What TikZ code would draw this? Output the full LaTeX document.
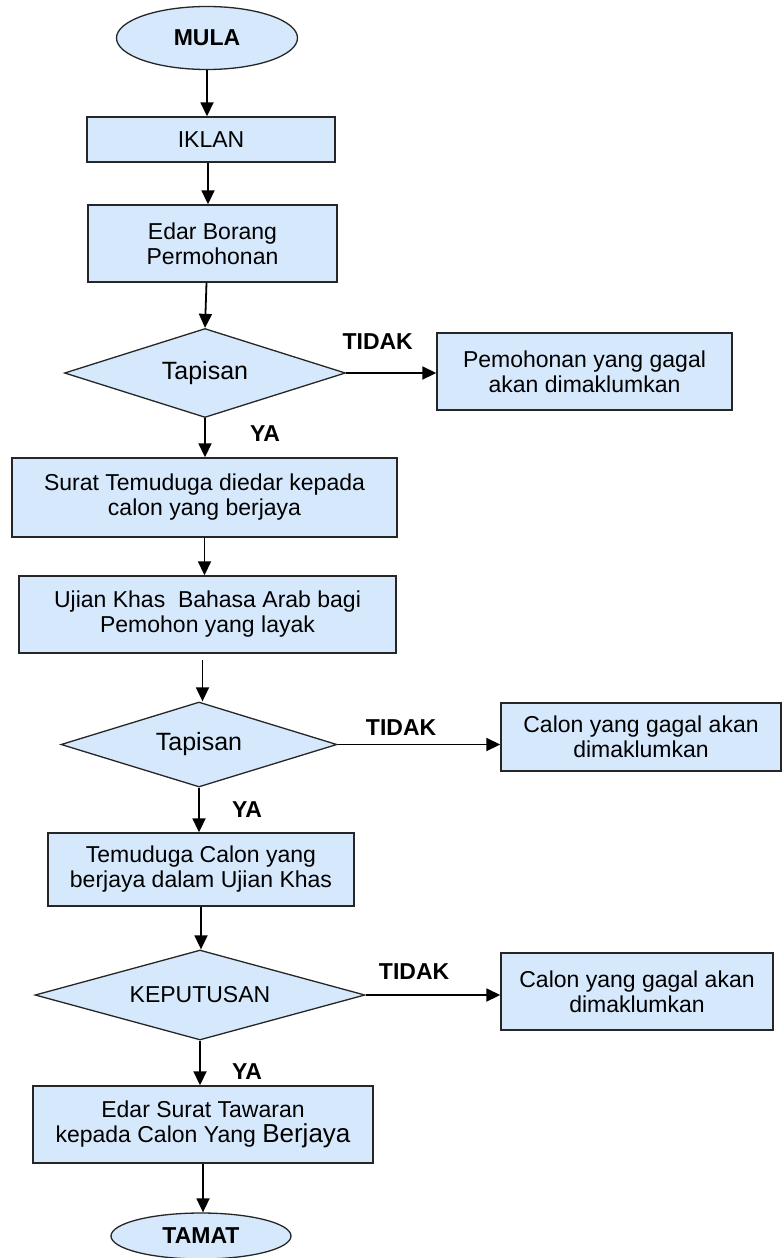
\documentclass[tikz,border=0pt]{standalone}
\usepackage{fontspec}
\setmainfont{Liberation Sans}
\usetikzlibrary{arrows.meta,shapes.geometric}
\definecolor{boxblue}{RGB}{214,232,252}
\begin{document}
\begin{tikzpicture}[x=1pt,y=-1pt,>={Triangle[length=14pt,width=13pt]},
	font=\fontsize{23}{25}\selectfont,
	langkah/.style={draw=black!85, line width=1.4pt, fill=boxblue, rectangle, align=center, inner sep=0pt},
	semak/.style={draw=black!85, line width=1.3pt, fill=boxblue, diamond, aspect=3, inner sep=0pt},
	hujung/.style={draw=black!85, line width=1.3pt, fill=boxblue, ellipse, inner sep=0pt, font=\fontsize{23}{25}\selectfont\bfseries},
	anak/.style={line width=1.8pt, ->},
	jawab/.style={font=\fontsize{23}{25}\selectfont\bfseries}]
				\useasboundingbox (0,0) rectangle (782,1258);
				\node[hujung, minimum width=181pt, minimum height=63pt]
				(mula) at (207,38) {MULA};
				\node[langkah, minimum width=248pt, minimum height=45pt]
				(iklan) at (211,139.5) {IKLAN};
				\node[langkah, minimum width=249pt, minimum height=77pt]
				(borang) at (212.5,243.5) {Edar Borang\\Permohonan};
				\node[semak, minimum width=281pt, minimum height=89pt]
				(tapis1) at (205,373) {\fontsize{25}{26}\selectfont Tapisan};
				\node[langkah, minimum width=295pt, minimum height=77pt]
				(gagal1) at (584.5,371.5) {Pemohonan yang gagal\\akan dimaklumkan};
				\node[langkah, minimum width=385pt, minimum height=79pt]
				(surat) at (204.5,497.5) {Surat Temuduga diedar kepada\\calon yang berjaya};
				\node[langkah, minimum width=377pt, minimum height=77pt]
				(ujian) at (207.5,614.5) {Ujian Khas\ \ Bahasa Arab bagi\\Pemohon yang layak};
				\node[semak, minimum width=276pt, minimum height=85pt]
				(tapis2) at (199,744.5) {\fontsize{25}{26}\selectfont Tapisan};
				\node[langkah, minimum width=280pt, minimum height=68pt]
				(gagal2) at (641,737) {Calon yang gagal akan\\dimaklumkan};
				\node[langkah, minimum width=306pt, minimum height=73pt]
				(temu) at (201,869.5) {Temuduga Calon yang\\berjaya dalam Ujian Khas};
				\node[semak, minimum width=330pt, minimum height=90pt]
				(putus) at (200,995) {KEPUTUSAN};
				\node[langkah, minimum width=272pt, minimum height=77pt]
				(gagal3) at (637,991.5) {Calon yang gagal akan\\dimaklumkan};
				\node[langkah, minimum width=340pt, minimum height=77pt]
				(tawar) at (203,1124.5) {Edar Surat Tawaran\\kepada Calon Yang {\fontsize{26}{25}\selectfont Berjaya}};
				\node[hujung, minimum width=180pt, minimum height=46pt]
				(tamat) at (201,1236) {TAMAT};
				% aliran utama
				\draw[anak] (mula.south) -- (mula.south |- iklan.north);
				\draw[anak] ([xshift=-3pt]iklan.south) -- ([xshift=-3pt]iklan.south |- borang.north);
				\draw[anak] ([xshift=-6pt]borang.south) -- (tapis1.north);
				\draw[anak] (tapis1.south) --
				node[jawab, pos=0.39, right=41pt] {YA}
				(tapis1.south |- surat.north);
				\draw[anak] (surat.south) -- (surat.south |- ujian.north);
				\draw[anak, shorten <=6pt] ([xshift=-5pt]ujian.south) -- ([xshift=-5pt]ujian.south |- tapis2.north);
				\draw[anak] (tapis2.south) --
				node[jawab, pos=0.5, right=29pt] {YA}
				(tapis2.south |- temu.north);
				\draw[anak] (temu.south) -- (temu.south |- putus.north);
				\draw[anak] (putus.south) --
				node[jawab, pos=0.7, right=28pt] {YA}
				(putus.south |- tawar.north);
				\draw[anak] (tawar.south) -- (tawar.south |- tamat.north);
				% cabang gagal
				\draw[anak] (tapis1.east) --
				node[jawab, pos=0.35, above=19pt] {TIDAK}
				(gagal1.west |- tapis1.east);
				\draw[anak] (tapis2.east) --
				node[jawab, pos=0.39, above=5pt] {TIDAK}
				(gagal2.west |- tapis2.east);
				\draw[anak] (putus.east) --
				node[jawab, pos=0.36, above=11pt] {TIDAK}
				(gagal3.west |- putus.east);
			\end{tikzpicture}
\end{document}
